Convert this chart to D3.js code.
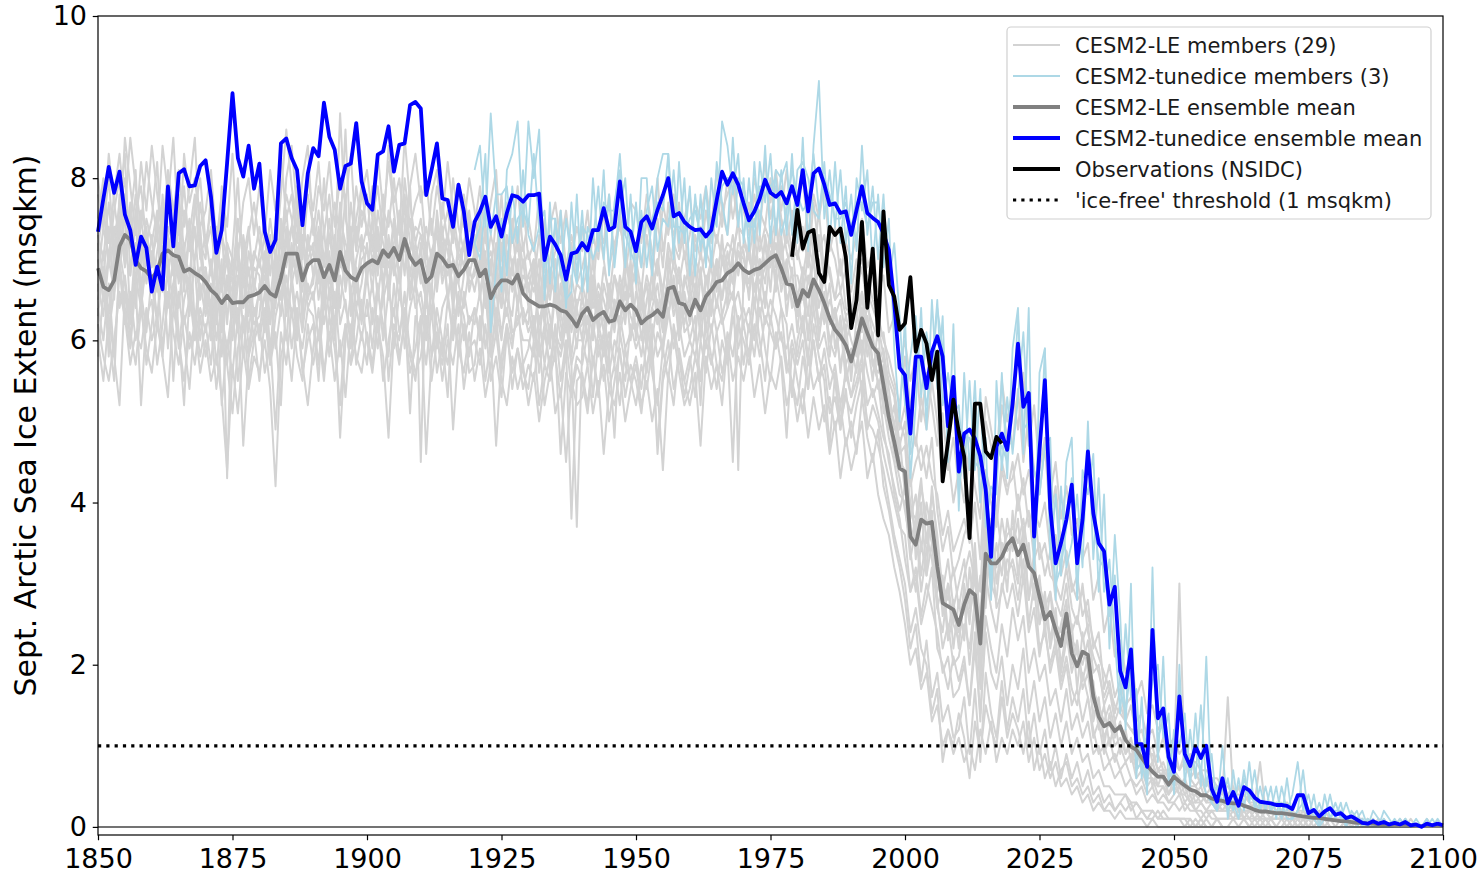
<!DOCTYPE html>
<html lang="en">
<head>
<meta charset="UTF-8">
<title>Sept. Arctic Sea Ice Extent</title>
<script src="https://cdn.jsdelivr.net/npm/d3@7"></script>
<style>
  body { margin: 0; background: #fff; font-family: "DejaVu Sans", sans-serif; }
  svg { display: block; }
  .tick text { font-family: "DejaVu Sans", sans-serif; font-size: 27px; fill: #000; }
  .tick line { stroke: #000; stroke-width: 1.2; }
  .legend text { font-size: 21px; fill: #1a1a1a; }
</style>
</head>
<body>
<svg id="chart"></svg>
<script>
// ---- data -------------------------------------------------------------
const firstYear = 1850;
const tunedFirstYear = 1920;   // tunedice members branch off here
const obsFirstYear = 1979;
const xTicks = [1850, 1875, 1900, 1925, 1950, 1975, 2000, 2025, 2050, 2075, 2100];
const yTicks = [0, 2, 4, 6, 8, 10];
const iceFree = 1;

// CESM2-LE ensemble mean, 1850-2100 (msqkm)
const leMean = [
  6.89,6.66,6.62,6.74,7.16,7.30,7.24,6.99,6.89,6.85,
  6.77,6.85,7.07,7.11,7.05,7.03,6.85,6.88,6.83,6.79,
  6.72,6.62,6.56,6.46,6.55,6.46,6.47,6.47,6.54,6.56,
  6.59,6.67,6.58,6.54,6.77,7.07,7.07,7.07,6.74,6.93,
  6.99,6.99,6.78,6.93,6.74,7.09,6.86,6.78,6.74,6.89,
  6.95,6.99,6.95,7.11,7.03,7.14,6.99,7.25,7.03,6.93,
  6.99,6.72,6.79,7.07,7.01,6.91,6.93,6.79,6.87,6.99,
  6.99,6.79,6.87,6.52,6.66,6.74,6.74,6.70,6.81,6.58,
  6.50,6.46,6.42,6.42,6.44,6.42,6.37,6.35,6.27,6.17,
  6.33,6.40,6.25,6.31,6.35,6.23,6.25,6.48,6.37,6.44,
  6.37,6.21,6.27,6.31,6.37,6.29,6.64,6.66,6.46,6.44,
  6.31,6.50,6.37,6.54,6.62,6.72,6.74,6.83,6.87,6.95,
  6.87,6.83,6.87,6.89,6.95,7.01,7.05,6.89,6.70,6.68,
  6.42,6.62,6.54,6.75,6.62,6.46,6.27,6.13,6.05,5.94,
  5.74,6.00,6.27,6.09,5.92,5.84,5.45,5.05,4.75,4.42,
  4.38,3.58,3.48,3.79,3.74,3.76,3.21,2.76,2.72,2.68,
  2.49,2.74,2.92,2.86,2.26,3.37,3.25,3.25,3.33,3.48,
  3.56,3.35,3.48,3.21,3.13,2.84,2.56,2.65,2.43,2.23,
  2.63,2.14,1.98,2.16,2.12,1.61,1.36,1.24,1.28,1.18,
  1.24,1.07,0.99,0.95,0.85,0.76,0.68,0.62,0.62,0.52,
  0.62,0.56,0.51,0.46,0.44,0.39,0.39,0.35,0.33,0.32,
  0.30,0.29,0.29,0.26,0.24,0.21,0.19,0.19,0.18,0.17,
  0.17,0.16,0.15,0.14,0.13,0.12,0.11,0.11,0.10,0.09,
  0.08,0.07,0.07,0.06,0.05,0.05,0.04,0.04,0.03,0.03,
  0.03,0.02,0.02,0.02,0.02,0.01,0.01,0.01,0.01,0.01,
  0.01
];

// CESM2-tunedice ensemble mean, 1850-2100 (msqkm)
const tunedMean = [
  7.34,7.75,8.14,7.82,8.08,7.55,7.36,6.93,7.28,7.14,
  6.60,6.91,6.63,7.90,7.16,8.06,8.11,7.90,7.91,8.15,
  8.22,7.77,7.08,7.36,8.19,9.05,8.25,8.02,8.40,7.87,
  8.18,7.34,7.09,7.24,8.43,8.49,8.25,8.10,7.42,8.06,
  8.37,8.27,8.93,8.51,8.35,7.87,8.15,8.18,8.68,7.96,
  7.69,7.61,8.29,8.33,8.64,8.08,8.41,8.43,8.90,8.94,
  8.86,7.79,8.10,8.43,7.75,7.73,7.40,7.92,7.59,7.05,
  7.46,7.59,7.77,7.40,7.53,7.28,7.57,7.79,7.77,7.71,
  7.79,7.79,7.81,6.99,7.28,7.18,7.05,6.75,7.07,7.09,
  7.20,7.11,7.36,7.36,7.63,7.36,7.40,7.96,7.40,7.34,
  7.10,7.46,7.53,7.38,7.61,7.79,8.00,7.53,7.57,7.46,
  7.40,7.36,7.37,7.28,7.36,7.73,8.08,7.92,8.06,7.92,
  7.69,7.48,7.59,7.75,7.98,7.82,7.77,7.83,7.69,7.90,
  7.67,8.10,7.59,8.06,8.12,7.92,7.67,7.69,7.57,7.59,
  7.30,7.61,7.90,7.57,7.51,7.46,7.32,7.11,6.46,5.66,
  5.57,4.85,5.80,5.80,5.41,5.86,6.05,5.80,4.94,5.55,
  4.38,4.85,4.90,4.79,4.57,4.16,3.33,4.69,4.85,4.65,
  5.22,5.96,5.18,5.35,3.58,4.65,5.51,3.93,3.25,3.50,
  3.79,4.22,3.25,3.79,4.63,3.87,3.50,3.40,2.74,2.96,
  1.92,1.72,2.19,1.02,1.02,0.74,2.43,1.34,1.46,0.86,
  0.68,1.61,0.90,0.75,0.99,0.85,1.00,0.47,0.31,0.60,
  0.29,0.43,0.26,0.49,0.45,0.36,0.31,0.30,0.29,0.27,
  0.27,0.26,0.22,0.39,0.39,0.17,0.21,0.13,0.19,0.23,
  0.15,0.17,0.11,0.13,0.09,0.05,0.04,0.07,0.04,0.06,
  0.03,0.05,0.03,0.06,0.02,0.03,0.00,0.04,0.02,0.04,
  0.02
];

// NSIDC observations, 1979-2018 (msqkm)
const observations = [
  7.03,7.61,7.13,7.33,7.36,6.83,6.72,7.40,7.30,7.38,
  7.03,6.15,6.50,7.46,6.40,7.13,6.06,7.59,6.68,6.54,
  6.13,6.21,6.78,5.86,6.13,5.96,5.51,5.86,4.26,4.75,
  5.27,4.87,4.57,3.56,5.22,5.22,4.63,4.55,4.81,4.73
];

// CESM2-LE members, 1850-2100, in tenths of msqkm
const leMember01 = [
  75,80,72,78,83,76,85,79,74,82, 77,73,84,78,76,81,74,79,85,72,
  70,78,69,74,62,71,80,68,73,77, 72,69,75,70,78,86,79,74,71,80,
  76,82,73,78,70,88,75,72,79,74, 78,71,83,76,74,80,73,85,77,72,
  75,70,78,81,73,76,72,79,74,80, 76,71,73,68,75,70,77,72,74,69,
  71,67,73,66,70,74,68,65,72,67, 69,72,66,74,70,65,71,76,68,73,
  70,66,73,68,75,69,77,72,70,74, 67,73,70,76,72,78,74,80,75,79,
  76,73,78,74,80,77,81,75,72,76, 70,74,69,77,71,73,68,65,70,64,
  63,68,70,66,64,62,58,55,53,47, 50,42,45,47,43,48,39,34,37,31,
  33,36,38,31,29,42,40,37,44,41, 45,39,43,37,40,33,35,31,30,28,
  32,27,25,30,24,21,19,16,18,14, 17,13,15,11,12,9,10,7,8,6,
  8,7,9,6,5,6,4,5,4,3, 4,3,5,3,2,3,2,3,2,2,
  2,3,1,2,1,1,2,1,1,1, 1,1,0,1,1,0,0,1,0,0,
  0,0,1,0,0,0,0,0,0,0, 0
];
const leMember02 = [
  62,58,55,60,66,63,57,61,59,64, 60,63,58,66,61,57,63,59,62,56,
  60,55,58,53,44,57,51,59,54,58, 56,60,54,42,58,61,55,63,57,52,
  59,64,56,61,55,60,53,62,58,56, 61,57,63,55,60,64,58,62,56,59,
  63,46,58,61,55,60,57,62,54,59, 60,57,62,55,58,53,61,56,59,54,
  57,55,60,52,56,58,53,59,38,55, 56,52,58,54,57,50,55,59,53,57,
  55,51,57,60,46,55,58,61,56,52, 54,58,55,60,57,61,56,59,45,62,
  60,57,62,58,63,61,59,64,57,55, 52,58,54,60,55,57,51,53,49,54,
  48,52,55,50,49,47,44,40,36,33, 30,24,27,22,20,14,17,8,12,10,
  14,11,6,13,9,15,12,10,16,11, 14,12,9,13,7,10,6,8,5,7,
  8,5,6,4,5,3,4,2,3,2, 3,2,3,1,2,1,1,2,1,1,
  1,1,0,1,0,1,0,0,1,0, 0,1,0,0,0,0,0,1,0,0,
  0,0,0,0,0,0,0,0,0,0, 0,0,0,0,0,0,0,0,0,0,
  0,0,0,0,0,0,0,0,0,0, 0
];
const leMember03 = [
  72,68,74,65,78,70,75,81,66,73, 69,75,72,80,68,74,70,66,77,71,
  64,70,62,68,72,60,67,71,63,69, 68,61,73,66,70,76,68,78,62,72,
  71,67,74,65,72,69,78,63,70,73, 67,75,69,78,65,72,74,68,79,66,
  72,64,70,75,68,73,65,71,76,67, 68,73,65,70,62,71,66,74,67,63,
  62,69,60,66,63,58,67,61,65,59, 66,60,68,62,59,65,61,67,63,70,
  60,66,61,69,64,58,70,66,62,68, 65,60,68,63,71,66,73,64,70,75,
  66,72,64,70,67,74,69,72,63,69, 61,68,63,71,60,66,58,64,56,62,
  55,63,66,58,61,54,57,49,52,46, 47,38,41,34,40,36,29,31,24,28,
  22,30,25,33,19,36,29,35,31,38, 34,38,30,35,28,31,24,29,22,25,
  28,20,23,18,21,13,16,10,14,11, 13,9,11,8,10,6,8,5,7,4,
  5,6,4,5,3,4,3,3,2,3, 2,3,2,2,1,2,1,2,1,1,
  1,1,2,1,0,1,1,0,1,0, 0,1,0,0,1,0,0,0,0,0,
  0,0,0,0,0,0,0,0,0,0, 0
];
const leMember04 = [
  66,71,63,70,75,69,77,64,72,67, 73,66,78,70,64,72,67,74,62,69,
  69,63,71,58,67,64,70,61,66,62, 63,70,58,67,74,65,72,67,73,65,
  68,73,64,70,61,74,66,71,64,67, 72,66,74,67,73,68,71,77,66,71,
  67,72,63,69,74,65,70,63,68,72, 73,65,71,60,69,66,63,70,64,68,
  67,61,66,62,69,65,60,66,58,64, 60,67,62,65,61,67,64,62,68,60,
  66,63,59,64,67,62,65,70,68,61, 62,67,60,66,63,69,65,71,67,72,
  71,65,73,68,72,66,75,67,70,64, 66,61,68,64,70,63,67,59,63,57,
  59,56,64,60,55,62,51,53,46,48, 41,44,33,40,31,42,35,26,30,22,
  28,23,32,26,31,27,38,30,35,29, 39,31,37,28,34,25,29,23,27,19,
  23,25,17,24,19,18,12,15,10,13, 9,12,8,10,7,9,5,7,6,4,
  6,4,5,3,4,5,3,4,2,3, 3,2,3,1,2,2,1,2,1,2,
  1,2,1,1,1,0,1,1,0,1, 0,0,1,0,0,0,1,0,0,0,
  0,0,0,0,0,0,0,0,0,0, 0
];
const leMember05 = [
  78,74,80,71,77,83,68,76,79,72, 75,82,70,77,85,73,79,71,76,80,
  72,76,67,79,71,68,75,70,74,66, 71,75,68,74,69,80,84,76,70,78,
  74,69,80,72,77,73,86,70,75,79, 73,79,71,75,82,76,70,80,74,77,
  79,71,75,68,77,72,80,74,71,76, 71,76,68,73,70,78,69,75,71,77,
  70,72,67,75,68,71,76,69,73,70, 74,68,73,70,76,69,72,74,71,67,
  72,69,75,71,68,77,73,78,71,75, 78,71,74,70,75,72,76,73,79,74,
  73,77,71,76,74,80,73,79,75,71, 74,71,77,70,76,68,72,70,66,69,
  66,70,61,68,65,63,60,58,55,52, 58,52,47,53,49,55,50,43,46,40,
  44,40,46,42,38,50,47,43,52,48, 47,54,45,51,44,41,47,38,42,35,
  34,29,31,26,28,22,24,17,20,16, 18,15,16,13,14,11,12,9,11,8,
  10,7,8,6,7,5,6,4,5,4, 4,5,3,4,3,2,3,2,2,3,
  2,2,1,2,2,1,1,1,2,1, 1,1,1,0,1,1,0,0,1,0,
  0,0,0,1,0,0,0,0,0,0, 0
];
const leMember06 = [
  64,60,67,58,69,62,66,60,65,57, 62,68,59,65,70,61,52,66,60,64,
  61,65,57,63,59,64,55,62,58,64, 60,64,57,63,66,60,68,62,59,64,
  63,57,65,60,66,58,62,57,64,60, 65,59,66,62,58,67,61,64,51,63,
  61,66,58,64,60,57,63,59,66,62, 64,60,67,58,63,56,62,59,65,57,
  59,63,56,61,57,62,55,60,54,58, 57,61,53,60,55,58,48,61,57,55,
  58,54,60,56,52,59,55,62,58,53, 57,61,55,62,58,54,60,57,63,59,
  62,58,65,60,55,63,59,61,56,60, 57,60,54,62,58,55,47,56,50,53,
  51,54,57,49,52,50,46,43,40,37, 36,29,31,25,28,32,22,20,17,21,
  18,21,15,24,13,26,22,19,25,21, 27,23,26,19,22,18,20,15,17,13,
  17,12,14,11,13,9,10,7,8,6, 7,5,6,4,5,3,4,3,3,2,
  3,2,3,2,2,1,2,1,1,1, 1,2,1,1,0,1,0,1,0,0,
  0,1,0,0,0,0,0,0,0,0, 0,0,0,0,0,0,0,0,0,0,
  0,0,0,0,0,0,0,0,0,0, 0
];
const leMember07 = [
  70,65,71,74,68,76,63,72,69,74, 66,71,75,68,73,67,72,63,70,74,
  65,69,64,70,43,67,62,69,61,67, 65,71,62,68,63,73,67,70,64,70,
  72,65,70,67,73,64,71,66,69,63, 69,73,65,71,67,74,68,72,65,70,
  45,68,71,66,72,65,70,67,64,69, 66,70,64,67,61,69,65,63,70,62,
  64,60,67,63,59,66,62,58,64,61, 62,65,60,66,63,58,65,61,64,66,
  61,64,67,60,65,61,68,63,66,62, 66,64,69,61,67,70,63,66,71,44,
  68,72,66,70,64,71,68,73,65,67, 63,67,60,66,61,64,60,58,62,55,
  58,60,53,63,57,59,52,48,45,41, 40,33,37,29,34,39,27,24,30,25,
  23,28,20,27,17,30,35,27,29,33, 32,28,33,25,30,22,24,20,23,18,
  21,17,15,19,16,11,13,9,11,8, 10,8,9,6,7,5,6,4,5,3,
  4,5,3,4,2,3,2,3,2,2, 2,1,2,1,2,1,1,1,1,0,
  1,1,0,1,0,0,1,0,0,0, 0,0,0,0,0,0,0,0,0,0,
  0,0,0,0,0,0,0,0,0,0, 0
];
const leMember08 = [
  68,74,70,76,80,71,74,67,75,70, 71,67,76,73,68,78,71,75,69,66,
  68,62,72,66,70,63,68,64,71,67, 70,66,72,64,75,69,74,79,68,66,
  67,74,69,75,68,77,70,74,66,72, 71,68,76,72,69,75,67,73,71,74,
  73,69,66,76,70,68,74,70,72,66, 69,74,70,64,72,68,71,66,69,72,
  66,70,64,68,65,70,63,67,61,65, 65,62,68,61,67,64,68,66,62,69,
  67,60,65,68,62,66,71,64,69,65, 64,69,62,67,69,64,70,67,65,71,
  70,67,71,65,73,69,72,66,69,72, 65,69,67,70,64,68,62,64,60,63,
  60,58,66,62,57,56,58,52,50,45, 44,40,36,42,38,35,33,30,28,32,
  27,31,34,30,26,37,33,39,34,36, 37,35,38,33,31,30,27,29,25,24,
  27,23,22,20,23,17,15,13,15,12, 12,11,10,9,8,7,8,6,6,5,
  6,5,6,4,4,3,4,3,3,2, 3,3,2,2,2,1,2,1,1,1,
  1,1,1,0,1,1,0,1,0,0, 0,0,0,0,0,1,0,0,0,0,
  0,0,0,0,0,0,0,0,0,0, 0
];
const leMember09 = [
  63,69,61,66,71,67,60,68,64,70, 67,62,69,64,67,59,65,68,61,67,
  63,67,60,64,68,61,64,58,66,60, 67,62,66,59,64,68,63,66,61,67,
  65,69,62,66,60,68,64,61,67,62, 68,62,67,60,66,63,69,59,64,67,
  64,60,66,62,58,65,61,66,60,63, 62,66,59,63,66,61,64,60,63,60,
  60,58,63,57,62,60,58,62,57,37, 59,63,57,61,58,61,57,63,59,61,
  62,58,63,57,61,59,63,67,60,64, 60,63,52,64,61,65,62,64,66,62,
  64,61,67,63,66,62,68,64,62,53, 60,63,58,64,59,61,57,55,49,57,
  53,57,60,56,53,55,49,45,42,39, 42,34,29,35,31,35,28,22,25,20,
  21,25,22,28,19,31,27,24,30,27, 30,26,31,24,27,21,25,19,22,17,
  20,15,17,13,16,12,9,10,8,9, 7,8,6,5,6,4,5,3,4,3,
  3,4,2,3,2,2,1,2,1,1, 1,1,1,1,1,0,1,0,1,0,
  0,0,1,0,0,0,0,0,0,0, 0,0,0,0,0,0,0,0,0,0,
  0,0,0,0,0,0,0,0,0,0, 0
];
const leMember10 = [
  71,77,69,73,76,80,72,78,70,75, 72,76,68,74,72,77,66,73,78,70,
  73,68,74,66,72,70,61,73,68,71, 69,73,65,71,67,74,70,68,75,71,
  75,71,66,73,69,72,68,77,71,76, 74,72,68,74,71,69,76,71,75,68,
  71,74,70,67,73,71,66,72,69,74, 72,68,74,66,70,64,73,69,72,66,
  68,66,70,63,67,66,69,63,68,64, 67,64,70,63,69,66,62,68,65,67,
  63,67,62,66,70,64,68,72,63,67, 69,66,71,67,70,68,72,69,73,68,
  72,70,68,73,69,72,70,75,71,68, 68,65,71,66,69,62,65,63,65,60,
  62,64,58,65,60,57,59,54,49,50, 48,39,38,43,35,41,36,29,33,27,
  30,33,27,35,24,39,36,32,38,34, 35,41,36,39,33,35,31,34,28,26,
  30,24,26,23,25,19,20,15,17,13, 15,13,12,12,10,11,8,9,7,7,
  8,30,7,9,6,7,5,6,5,4, 16,4,5,3,4,3,8,2,3,2,
  2,3,2,1,2,1,1,2,1,1, 1,1,0,1,1,0,1,0,0,1,
  0,0,1,0,0,0,0,1,0,0, 0
];
const leMember11 = [
  58,66,61,55,70,64,59,67,52,63, 65,57,62,69,55,66,60,54,63,58,
  62,57,65,52,60,56,63,47,58,61, 55,63,57,61,52,66,59,64,56,60,
  62,55,67,58,63,48,60,66,57,61, 57,64,59,67,55,62,60,66,58,55,
  62,57,64,56,60,53,65,58,62,56, 57,63,55,60,47,58,62,54,59,56,
  54,60,52,57,55,59,46,56,53,57, 55,51,58,53,60,54,57,52,59,55,
  52,57,54,59,47,56,60,54,58,55, 58,53,60,56,62,57,55,61,58,63,
  57,62,58,64,59,55,61,57,48,59, 55,51,58,54,56,50,53,49,52,47,
  50,46,53,48,45,49,42,39,35,32, 28,22,25,18,23,16,19,13,15,11,
  12,16,9,17,8,19,14,11,18,12, 16,13,17,10,14,9,12,7,10,6,
  9,6,8,5,7,4,5,3,4,2, 3,4,2,3,2,1,2,1,1,1,
  1,1,1,0,1,0,1,0,0,0, 0,0,0,0,0,0,0,0,0,0,
  0,0,0,0,0,0,0,0,0,0, 0,0,0,0,0,0,0,0,0,0,
  0,0,0,0,0,0,0,0,0,0, 0
];
const leMember12 = [
  80,74,83,77,72,85,79,73,82,76, 84,78,73,81,76,70,83,77,80,74,
  76,81,72,78,74,83,70,77,80,73, 79,73,81,76,83,75,78,72,80,84,
  73,79,76,82,74,80,77,83,72,78, 81,75,79,73,84,77,80,74,79,83,
  77,80,73,79,75,82,76,71,78,74, 74,79,72,77,81,70,76,73,79,71,
  75,71,78,69,74,77,72,76,70,74, 71,76,69,74,72,78,70,75,73,77,
  76,72,78,74,80,71,75,73,77,70, 73,77,75,79,74,81,76,78,80,75,
  79,74,80,77,82,75,79,76,81,74, 77,80,73,78,75,79,71,74,68,72,
  70,73,75,69,71,66,68,61,63,57, 60,55,58,50,56,52,47,51,44,48,
  42,47,44,51,40,53,49,45,55,50, 54,49,56,47,52,44,48,41,45,38,
  42,36,38,33,35,28,31,24,27,21, 23,19,21,16,18,14,15,12,13,10,
  11,9,10,8,8,7,7,6,6,5, 5,4,4,4,3,3,3,2,3,2,
  2,2,2,1,2,1,1,1,1,1, 1,1,0,1,0,1,0,0,1,0,
  0,0,0,0,1,0,0,0,0,0, 0
];
const leMember13 = [
  67,63,70,66,74,71,68,75,64,71, 70,73,66,72,69,64,71,68,74,65,
  69,64,70,61,68,66,72,64,69,63, 66,68,62,70,65,72,74,69,66,73,
  68,72,65,71,64,70,67,73,66,70, 71,69,73,66,72,70,65,74,68,72,
  68,65,71,73,67,70,64,69,72,68, 71,66,70,63,68,64,69,67,65,70,
  64,68,62,66,60,67,63,61,66,62, 64,60,66,61,63,59,65,62,66,63,
  61,65,60,64,62,66,63,68,61,66, 62,66,63,68,64,70,65,69,67,71,
  68,66,70,67,69,73,66,71,68,65, 63,66,61,67,62,65,60,62,57,60,
  56,61,58,63,57,55,52,50,46,43, 39,35,38,31,36,33,27,30,23,26,
  24,29,26,31,22,33,30,28,35,31, 33,30,36,28,32,25,28,22,26,20,
  24,19,22,17,19,14,15,11,13,10, 11,9,10,7,8,6,6,5,5,4,
  5,4,4,3,3,3,2,2,2,2, 2,2,1,2,1,1,1,1,1,1,
  1,0,1,0,1,0,0,1,0,0, 0,0,0,0,0,0,0,0,0,0,
  0,0,0,0,0,0,0,0,0,0, 0
];
const leMember14 = [
  60,55,63,58,52,66,61,57,64,59, 56,62,58,53,64,60,55,61,57,63,
  58,62,54,60,57,51,59,63,55,60, 62,56,60,49,61,57,64,58,55,62,
  57,61,55,63,59,52,62,57,60,65, 60,56,62,58,48,61,57,63,59,56,
  58,63,55,60,57,62,49,59,56,61, 55,59,53,57,61,55,52,58,54,57,
  52,56,50,55,58,51,54,45,55,52, 53,57,51,55,46,54,52,56,50,54,
  57,52,55,50,54,44,56,52,59,55, 52,56,47,58,54,57,52,60,55,58,
  55,59,53,57,51,56,54,58,52,55, 50,54,48,53,49,52,46,50,43,48,
  44,47,50,43,46,41,38,36,32,29, 25,20,22,17,19,13,15,10,12,9,
  11,8,10,7,12,9,13,8,11,9, 12,10,13,8,11,7,9,6,8,5,
  6,4,5,3,4,2,3,2,2,1, 2,1,1,1,1,0,1,0,0,0,
  0,0,0,0,0,0,0,0,0,0, 0,0,0,0,0,0,0,0,0,0,
  0,0,0,0,0,0,0,0,0,0, 0,0,0,0,0,0,0,0,0,0,
  0,0,0,0,0,0,0,0,0,0, 0
];
const leMember15 = [
  73,70,77,69,75,78,72,70,76,73, 70,74,77,71,74,68,76,72,70,77,
  71,74,68,73,70,67,74,72,66,70, 74,69,71,68,72,78,75,71,73,69,
  71,76,70,73,68,75,72,70,74,71, 74,70,72,69,76,73,71,78,72,70,
  73,71,68,74,71,73,70,67,72,75, 70,73,69,71,67,72,70,68,73,66,
  68,70,65,69,66,70,64,68,63,67, 66,69,64,67,65,62,68,64,70,66,
  69,64,68,65,70,66,72,69,67,71, 66,70,68,71,69,73,70,72,71,74,
  73,70,75,71,74,72,75,70,73,70, 71,68,72,69,73,67,69,65,66,63,
  64,66,69,64,62,60,61,56,54,49, 52,46,48,44,47,43,41,36,39,34,
  36,38,35,40,33,44,41,39,45,42, 43,46,41,44,39,37,40,34,36,31,
  34,30,28,29,26,23,21,19,17,15, 14,13,12,11,10,9,9,7,7,6,
  7,6,5,5,5,4,4,3,3,3, 3,3,2,2,2,2,1,2,1,1,
  1,1,1,1,0,1,1,0,1,0, 0,0,1,0,0,0,0,0,0,0,
  0,0,0,0,0,0,0,0,0,0, 0
];
const leMember16 = [
  65,69,58,72,64,68,62,70,66,61, 68,63,70,59,67,72,62,65,69,60,
  66,60,67,63,57,65,61,68,59,64, 61,66,59,65,70,63,67,60,69,64,
  66,60,68,63,70,62,65,59,67,63, 63,67,61,65,68,59,66,62,69,64,
  66,61,67,59,64,66,60,65,63,58, 64,61,66,58,64,60,67,61,62,64,
  61,63,58,62,56,61,59,63,57,60, 60,57,62,58,61,56,60,58,55,62,
  59,61,56,62,58,60,64,59,62,58, 60,58,62,59,65,61,63,58,64,66,
  62,64,60,66,62,65,63,60,59,62, 58,62,57,60,55,59,54,57,52,56,
  53,55,58,52,54,51,48,46,41,38, 33,29,32,26,30,27,24,19,21,16,
  17,20,15,22,14,24,19,17,21,15, 20,17,22,14,18,13,16,11,14,10,
  13,9,11,8,9,6,7,5,5,4, 4,4,3,3,2,2,2,1,2,1,
  1,1,1,1,0,1,0,0,1,0, 0,0,0,1,0,0,0,0,0,0,
  0,0,0,0,0,0,0,0,0,0, 0,0,0,0,0,0,0,0,0,0,
  0,0,0,0,0,0,0,0,0,0, 0
];

// CESM2-tunedice members, 1920-2100, in tenths of msqkm
const tunedMember1 = [
  81,84,74,88,78,66,81,83,87,74, 87,80,86,65,77,66,76,64,77,68,
  76,66,80,71,81,68,77,81,69,78, 67,80,80,68,80,83,83,70,82,72,
  79,68,78,69,80,74,87,84,78,83, 72,80,72,82,77,83,73,81,73,83,
  72,85,71,84,92,75,81,74,81,72, 78,71,84,73,79,70,78,67,72,63,
  52,58,63,53,61,56,65,52,56,51, 52,43,55,44,54,37,42,41,56,43,
  59,64,46,64,31,56,59,33,41,31, 45,48,28,44,41,46,29,41,22,36,
  26,12,30,6,16,4,32,8,21,5, 12,10,14,5,14,5,21,3,5,3,
  6,2,6,2,8,2,5,2,5,1, 5,2,4,8,2,4,1,3,1,4,
  1,3,0,2,1,2,0,2,1,0, 0,1,0,1,0,0,0,1,0,0,
  0
];
const tunedMember2 = [
  72,74,83,61,69,75,68,79,72,81, 73,71,74,76,67,75,69,65,66,78,
  66,74,72,79,70,78,69,76,80,70, 77,69,76,79,71,75,74,81,72,80,
  68,78,71,79,69,82,77,73,85,74, 80,71,82,73,84,72,81,80,82,73,
  81,82,80,76,75,82,72,82,72,79, 67,80,76,81,69,78,69,75,59,50,
  63,43,52,64,49,65,54,63,45,62, 39,56,44,55,40,48,29,55,44,53,
  46,53,61,48,44,41,47,48,28,42, 32,35,41,32,50,33,43,29,33,23,
  14,25,16,17,6,12,18,20,11,14, 4,20,5,12,6,15,5,9,2,10,
  1,7,2,7,3,7,2,5,2,5, 1,6,1,2,7,1,4,0,4,1,
  3,1,3,1,2,0,1,0,0,2, 1,0,0,1,0,1,0,0,0,1,
  0
];
const tunedMember3 = [
  72,70,77,73,78,78,79,72,75,76, 74,83,74,69,75,75,68,75,70,67,
  74,73,70,72,77,76,76,83,73,71, 69,76,69,75,77,76,83,74,74,73,
  75,76,73,71,73,75,79,80,80,80, 79,74,74,79,79,79,80,73,76,81,
  78,76,77,83,76,80,78,75,75,77, 74,77,77,74,77,77,72,71,64,58,
  53,46,59,57,52,56,64,59,46,55, 41,48,48,45,44,41,28,45,47,45,
  51,63,49,50,33,44,59,36,30,32, 37,43,30,38,47,38,33,32,26,31,
  17,14,20,7,8,5,22,11,13,8, 5,18,8,7,10,7,4,3,2,5,
  2,3,1,6,4,3,2,2,2,3, 3,1,1,2,3,1,1,0,1,1,
  2,2,0,0,0,1,0,1,0,1, 0,0,1,0,0,0,0,0,1,0,
  0
];

const legendLabels = [
  "CESM2-LE members (29)",
  "CESM2-tunedice members (3)",
  "CESM2-LE ensemble mean",
  "CESM2-tunedice ensemble mean",
  "Observations (NSIDC)",
  "'ice-free' threshold (1 msqkm)"
];

// ---- layout -----------------------------------------------------------
const W = 1483, H = 874;
const margin = {top: 16, right: 40, bottom: 39, left: 98};
const width = W - margin.left - margin.right;
const height = H - margin.top - margin.bottom;

const svgRoot = d3.select("#chart").attr("width", W).attr("height", H);
const svg = svgRoot.append("g").attr("transform", `translate(${margin.left},${margin.top})`);

const x = d3.scaleLinear().domain([1850, 2100]).range([0, width]);
const y = d3.scaleLinear().domain([-0.1, 10]).range([height, 0]);

const lineFrom = (start, scale = 1) => d3.line()
  .x((d, i) => x(start + i))
  .y(d => y(d / scale));

const styles = {
  leMember:    {stroke: "#d3d3d3", width: 2.0, dash: null},
  tunedMember: {stroke: "#add8e6", width: 1.8, dash: null},
  leMean:      {stroke: "#808080", width: 3.8, dash: null},
  tunedMean:   {stroke: "#0000ff", width: 3.8, dash: null},
  obs:         {stroke: "#000000", width: 3.8, dash: null},
  threshold:   {stroke: "#000000", width: 3.2, dash: "3.2,5.1"}
};

const plot = svg.append("g");

// members
const leMembers = [leMember01, leMember02, leMember03, leMember04, leMember05,
                   leMember06, leMember07, leMember08, leMember09, leMember10,
                   leMember11, leMember12, leMember13, leMember14, leMember15,
                   leMember16];
plot.selectAll("path.le-member")
  .data(leMembers)
  .join("path")
  .attr("class", "le-member")
  .attr("fill", "none")
  .attr("stroke", styles.leMember.stroke)
  .attr("stroke-width", styles.leMember.width)
  .attr("stroke-linejoin", "round")
  .attr("d", d => lineFrom(firstYear, 10)(d));

const tunedMembers = [tunedMember1, tunedMember2, tunedMember3];
plot.selectAll("path.tuned-member")
  .data(tunedMembers)
  .join("path")
  .attr("class", "tuned-member")
  .attr("fill", "none")
  .attr("stroke", styles.tunedMember.stroke)
  .attr("stroke-width", styles.tunedMember.width)
  .attr("stroke-linejoin", "round")
  .attr("d", d => lineFrom(tunedFirstYear, 10)(d));

// zero line
plot.append("line")
  .attr("x1", 0).attr("x2", width)
  .attr("y1", y(0)).attr("y2", y(0))
  .attr("stroke", "#444").attr("stroke-width", 1.5);

// means + obs
const mainLines = [
  {data: leMean, start: firstYear, s: styles.leMean},
  {data: tunedMean, start: firstYear, s: styles.tunedMean},
  {data: observations, start: obsFirstYear, s: styles.obs}
];
plot.selectAll("path.main")
  .data(mainLines)
  .join("path")
  .attr("class", "main")
  .attr("fill", "none")
  .attr("stroke", d => d.s.stroke)
  .attr("stroke-width", d => d.s.width)
  .attr("stroke-linejoin", "round")
  .attr("d", d => lineFrom(d.start)(d.data));

// ice-free threshold
plot.append("line")
  .attr("x1", 0).attr("x2", width)
  .attr("y1", y(iceFree)).attr("y2", y(iceFree))
  .attr("stroke", styles.threshold.stroke)
  .attr("stroke-width", styles.threshold.width)
  .attr("stroke-dasharray", styles.threshold.dash);

// axes
const xAxis = svg.append("g")
  .attr("transform", `translate(0,${height})`)
  .call(d3.axisBottom(x).tickValues(xTicks).tickFormat(d3.format("d"))
    .tickSize(5.25).tickPadding(8.5).tickSizeOuter(0));
xAxis.select(".domain").remove();

const yAxis = svg.append("g")
  .call(d3.axisLeft(y).tickValues(yTicks).tickSize(5.25).tickPadding(5.75).tickSizeOuter(0));
yAxis.select(".domain").remove();

svg.append("rect")
  .attr("width", width).attr("height", height)
  .attr("fill", "none").attr("stroke", "#000").attr("stroke-width", 1.2);

svgRoot.append("text")
  .attr("transform", `translate(36,${margin.top + height / 2}) rotate(-90)`)
  .attr("text-anchor", "middle")
  .style("font-size", "30px")
  .style("font-family", "DejaVu Sans, sans-serif")
  .text("Sept. Arctic Sea Ice Extent (msqkm)");

// legend
const legendKeys = [styles.leMember, styles.tunedMember, styles.leMean,
                    styles.tunedMean, styles.obs, styles.threshold];
const legend = svgRoot.append("g").attr("class", "legend");
legend.append("rect")
  .attr("x", 1007).attr("y", 27).attr("width", 424).attr("height", 192)
  .attr("rx", 4)
  .attr("fill", "#fff").attr("fill-opacity", 0.85)
  .attr("stroke", "#d0d0d0").attr("stroke-width", 1.2);

const rows = legend.selectAll("g.row")
  .data(legendLabels)
  .join("g")
  .attr("class", "row")
  .attr("transform", (d, i) => `translate(0,${45 + i * 31})`);
rows.append("line")
  .attr("x1", 1013).attr("x2", 1060)
  .attr("stroke", (d, i) => legendKeys[i].stroke)
  .attr("stroke-width", (d, i) => legendKeys[i].width)
  .attr("stroke-dasharray", (d, i) => legendKeys[i].dash);
rows.append("text")
  .attr("x", 1075).attr("dy", "0.36em")
  .text(d => d);
</script>
</body>
</html>
